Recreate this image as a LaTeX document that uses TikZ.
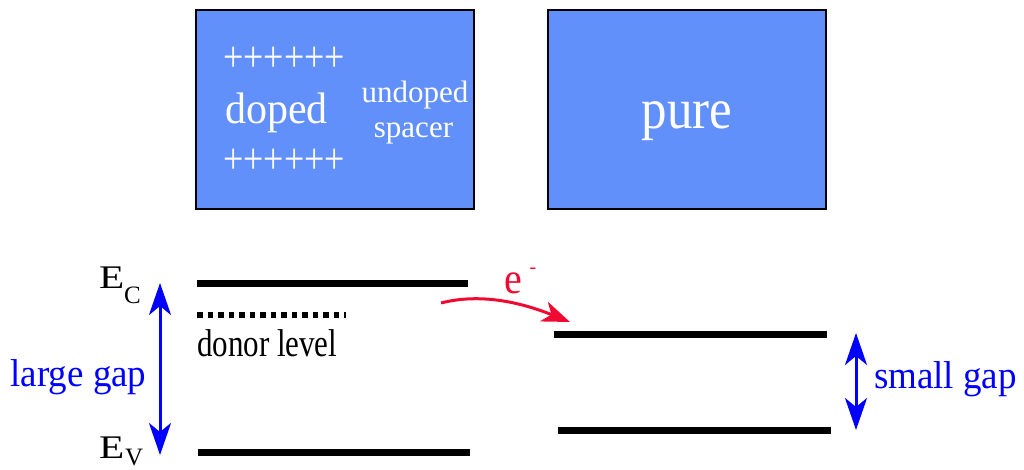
\documentclass[tikz,border=0pt]{standalone}
\usepackage{fontspec}
\usepackage{graphicx}
\setmainfont{Liberation Serif}
\usetikzlibrary{arrows.meta}

\definecolor{slab}{RGB}{98,144,250}
\definecolor{gapblue}{RGB}{0,0,255}
\definecolor{elred}{RGB}{240,10,50}

\newcommand\fs[1]{\fontsize{#1}{#1}\selectfont}

\tikzset{
  slabbox/.style={draw=black, line width=2.5pt, fill=slab,
    minimum width=278pt, minimum height=199pt, inner sep=0pt},
  lbl/.style={inner sep=0pt, outer sep=0pt},
  bandline/.style={line width=7pt},
  donorline/.style={line width=6pt, dash pattern=on 5.5pt off 5pt},
  gaparrow/.style={draw=gapblue, line width=3pt,
    {Stealth[length=32pt,width=22pt,inset=9pt]}-{Stealth[length=32pt,width=22pt,inset=9pt]}},
  hop/.style={draw=elred, line width=3pt,
    -{Stealth[length=28pt,width=21pt,inset=8pt]}},
}

\begin{document}
\begin{tikzpicture}[x=1pt,y=-1pt]
\useasboundingbox (0,0) rectangle (1024,470);

% --- the two layers ---
\node[slabbox] (dopedslab) at (335,109.5) {};
\node[slabbox] (pureslab)  at (687,109.5) {};

\node[lbl, white, anchor=center] (plustop) at (284,59)
  {\fs{36}\scalebox{1}[1.2]{++++++}};
\node[lbl, white, anchor=center] (plusbot) at (284,161)
  {\fs{36}\scalebox{1}[1.2]{++++++}};
\node[lbl, white, anchor=base] (dopedtxt) at (276.5,124)
  {\fs{42}\scalebox{1}[1.05]{doped}};
\node[lbl, white, anchor=base] (undopedtxt) at (415,103) {\fs{31}undoped};
\node[lbl, white, anchor=base] (spacertxt) at (413.5,138) {\fs{31}spacer};
\node[lbl, white, anchor=base] (puretxt) at (687,129)
  {\fs{51}\scalebox{1}[1.12]{pure}};

% --- band edges ---
\coordinate (ecL) at (197,283.5);
\coordinate (ecR) at (468,283.5);
\coordinate (dL)  at (197,315);
\coordinate (dR)  at (346,315);
\coordinate (evL) at (198,452);
\coordinate (evR) at (470,452);
\coordinate (rcL) at (554,334);
\coordinate (rcR) at (827,334);
\coordinate (rvL) at (558,430);
\coordinate (rvR) at (831,430);

\draw[bandline] (ecL) -- (ecR);
\draw[donorline] (dL) -- (dR);
\draw[bandline] (evL) -- (evR);
\draw[bandline] (rcL) -- (rcR);
\draw[bandline] (rvL) -- (rvR);

% --- band labels ---
\node[lbl, anchor=base west] (ECe) at (99,288) {\fs{33}\scalebox{1.25}[1]{E}};
\node[lbl, anchor=base west] (ECs) at (124,303) {\fs{25}C};
\node[lbl, anchor=base west] (EVe) at (99,458) {\fs{33}\scalebox{1.25}[1]{E}};
\node[lbl, anchor=base west] (EVs) at (125,465) {\fs{25}V};
\node[lbl, anchor=base west] (donortxt) at (197,356)
  {\fs{31}\scalebox{1}[1.25]{donor level}};

% --- gap arrows ---
\coordinate (lgT) at (160,283);
\coordinate (lgB) at (160,455);
\coordinate (sgT) at (856,333);
\coordinate (sgB) at (856,430);
\draw[gaparrow] (lgT) -- (lgB);
\draw[gaparrow] (sgT) -- (sgB);
\node[lbl, gapblue, anchor=base] (largetxt) at (78.5,386) {\fs{37}\scalebox{1}[1.05]{large gap}};
\node[lbl, gapblue, anchor=base west] (smalltxt) at (874,388) {\fs{37}\scalebox{1}[1.05]{small gap}};

% --- electron transfer ---
\coordinate (eS) at (441,303);
\coordinate (eE) at (570,322);
\draw[hop] (eS) .. controls (480,293) and (520,302) .. (eE);
\node[lbl, elred, anchor=base west] (etxt) at (504,293) {\fs{40}\scalebox{1}[1.1]{e}};
\node[lbl, elred, anchor=center] (echarge) at (533,271) {\fs{20}-};
\end{tikzpicture}
\end{document}
